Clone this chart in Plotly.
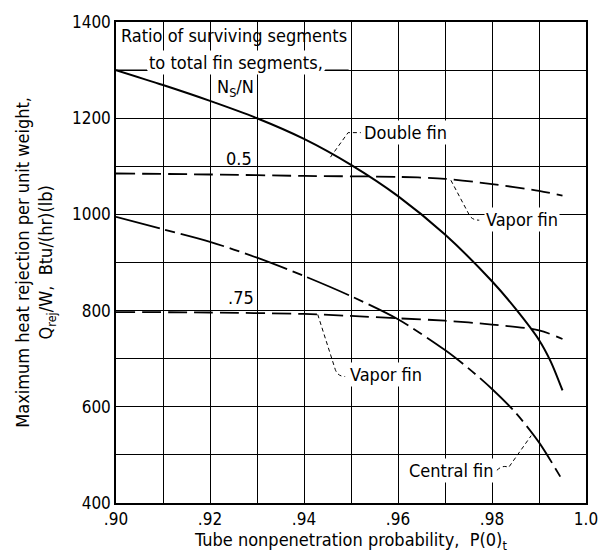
import plotly.graph_objects as go

# ---- data ----
x_double = [0.90, 0.91, 0.92, 0.93, 0.94, 0.95, 0.96, 0.97, 0.98, 0.985, 0.99, 0.9925, 0.995]
y_double = [1300, 1269, 1236, 1200, 1157, 1103, 1038, 958, 861, 804, 739, 694, 634]

x_vapor05 = [0.90, 0.92, 0.94, 0.96, 0.97, 0.98, 0.99, 0.995]
y_vapor05 = [1085, 1083, 1080, 1078, 1074, 1063, 1049, 1039]

x_vapor075 = [0.90, 0.92, 0.94, 0.95, 0.96, 0.97, 0.98, 0.99, 0.995]
y_vapor075 = [797, 796, 793, 789, 784, 779, 771, 759, 741]

x_central = [0.90, 0.91, 0.92, 0.93, 0.94, 0.95, 0.96, 0.97, 0.975, 0.98, 0.985, 0.99, 0.995]
y_central = [995, 969, 943, 910, 872, 830, 782, 718, 680, 637, 588, 526, 447]

x_ticks = [0.90, 0.91, 0.92, 0.93, 0.94, 0.95, 0.96, 0.97, 0.98, 0.99, 1.00]
x_ticktext = [".90", "", ".92", "", ".94", "", ".96", "", ".98", "", "1.0"]
y_ticks = [400, 500, 600, 700, 800, 900, 1000, 1100, 1200, 1300, 1400]
y_ticktext = ["400", "", "600", "", "800", "", "1000", "", "1200", "", "1400"]

FONT = "DejaVu Sans Condensed, sans-serif"
TXT = 18

fig = go.Figure()

fig.add_trace(go.Scatter(x=x_double, y=y_double, mode="lines",
                         line=dict(color="black", width=2, shape="spline", smoothing=0.8),
                         name="Double fin"))
fig.add_trace(go.Scatter(x=x_vapor05, y=y_vapor05, mode="lines",
                         line=dict(color="black", width=1.8, dash="19px,7px", shape="spline", smoothing=0.8),
                         name="Vapor fin 0.5"))
fig.add_trace(go.Scatter(x=x_vapor075, y=y_vapor075, mode="lines",
                         line=dict(color="black", width=1.8, dash="19px,7px", shape="spline", smoothing=0.8),
                         name="Vapor fin .75"))
fig.add_trace(go.Scatter(x=x_central, y=y_central, mode="lines",
                         line=dict(color="black", width=1.8, dash="45px,6px,10px,6px", shape="spline", smoothing=0.8),
                         name="Central fin"))

shapes = [
    # white cover for the label box in the upper-left corner
    dict(type="rect", xref="x", yref="y", x0=0.90, x1=0.9495, y0=1287, y1=1400,
         fillcolor="white", line=dict(width=0), layer="below"),
    dict(type="line", xref="x", yref="y", x0=0.90, x1=0.9066, y0=1300, y1=1300,
         line=dict(color="black", width=1.2), layer="below"),
    dict(type="line", xref="x", yref="y", x0=0.9445, x1=0.9495, y0=1300, y1=1300,
         line=dict(color="black", width=1.2), layer="below"),
    # leader lines
    dict(type="path", xref="x", yref="y",
         path="M 0.94563 1119 L 0.94938 1170 L 0.95208 1170",
         line=dict(color="black", width=1, dash="4px,3px")),
    dict(type="path", xref="x", yref="y",
         path="M 0.97125 1071 L 0.97521 998 Q 0.9758 988 0.97729 988",
         line=dict(color="black", width=1, dash="4px,3px")),
    dict(type="path", xref="x", yref="y",
         path="M 0.94292 792 L 0.94667 677 Q 0.9472 663 0.94875 663",
         line=dict(color="black", width=1, dash="4px,3px")),
    dict(type="path", xref="x", yref="y",
         path="M 0.98104 468 Q 0.9823 480 0.98354 474 L 0.98833 540",
         line=dict(color="black", width=1, dash="4px,3px")),
]

def note(text, x, y, xanchor="left", bg=None, size=TXT):
    d = dict(text=text, x=x, y=y, xref="x", yref="y", showarrow=False,
             xanchor=xanchor, yanchor="middle",
             font=dict(family=FONT, size=size, color="black"))
    if bg:
        d.update(bgcolor=bg, borderpad=1)
    return d

annotations = [
    note("Ratio of surviving segments", 0.9007, 1372),
    note("to total fin segments,", 0.9066, 1316, bg="white"),
    note("N<sub>S</sub>/N", 0.9254, 1262, xanchor="center", bg="white"),
    note("0.5", 0.9262, 1117, xanchor="center"),
    note(".75", 0.9265, 827, xanchor="center"),
    note("Double fin", 0.9523, 1170, bg="white"),
    note("Vapor fin", 0.9783, 989, bg="white"),
    note("Vapor fin", 0.9494, 667, bg="white"),
    note("Central fin", 0.9808, 468, xanchor="right", bg="white"),
    dict(text="Maximum heat rejection per unit weight,<br>Q<sub>rej</sub>/W,  Btu/(hr)(lb)",
         x=-0.172, y=0.50, xref="paper", yref="paper", showarrow=False,
         textangle=-90, xanchor="center", yanchor="middle",
         font=dict(family=FONT, size=TXT, color="black")),
]

fig.update_layout(
    width=610, height=558,
    margin=dict(l=116, r=14, t=16, b=55),
    paper_bgcolor="white", plot_bgcolor="white",
    showlegend=False,
    shapes=shapes, annotations=annotations,
    font=dict(family=FONT, size=16, color="black"),
)
fig.update_xaxes(range=[0.90, 1.00], tickvals=x_ticks, ticktext=x_ticktext,
                 showgrid=True, gridcolor="black", gridwidth=1.2,
                 showline=True, linecolor="black", linewidth=1.5, mirror=True,
                 ticks="", zeroline=False,
                 tickfont=dict(family=FONT, size=17, color="black"),
                 title=dict(text="Tube nonpenetration probability,  P(0)<sub>t</sub>",
                            font=dict(family=FONT, size=TXT, color="black"), standoff=2))
fig.update_yaxes(range=[400, 1400], tickvals=y_ticks, ticktext=y_ticktext,
                 showgrid=True, gridcolor="black", gridwidth=1.2,
                 showline=True, linecolor="black", linewidth=1.5, mirror=True,
                 ticks="", zeroline=False,
                 tickfont=dict(family=FONT, size=17, color="black"))

fig.write_html("out.html", config={"displayModeBar": False},
               post_script="document.body.style.margin='0';")
